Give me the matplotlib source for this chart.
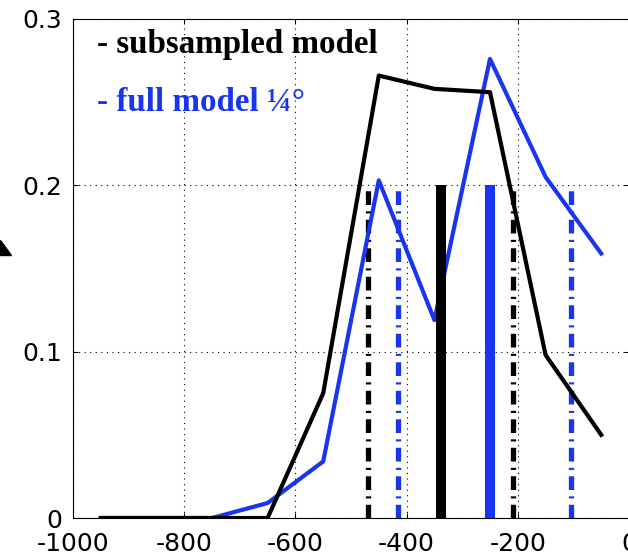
import matplotlib
matplotlib.use("Agg")
import matplotlib.pyplot as plt
from matplotlib.patches import Polygon

plt.rcParams["axes.unicode_minus"] = False

# depth bins (centres) and the two histograms
depth = [-950, -850, -750, -650, -550, -450, -350, -250, -150, -50]
subsampled = [0, 0, 0, 0, 0.075, 0.266, 0.258, 0.256, 0.098, 0.050]
full_model = [0, 0, 0, 0.009, 0.034, 0.203, 0.119, 0.276, 0.205, 0.159]

# mean (thick) and spread (dash-dot) markers, all drawn up to 0.2
sub_mean = -338
sub_spread = [-470, -209]
full_mean = -250
full_spread = [-416, -104]
marker_top = 0.2

xticks = [-1000, -800, -600, -400, -200, 0]
yticks = [0, 0.1, 0.2, 0.3]

blue = "#1a35f0"
dashdot = (0, (2.6, 1.2, 0.4, 1.2))

fig = plt.figure(figsize=(6.28, 5.58), dpi=100)
ax = fig.add_axes([73 / 628, 40 / 558, 556 / 628, 499 / 558])

for x in sub_spread:
    ax.plot([x, x], [0, marker_top], color="black", lw=3.8, ls=dashdot,
            dash_capstyle="butt", zorder=2)
for x in full_spread:
    ax.plot([x, x], [0, marker_top], color=blue, lw=3.8, ls=dashdot,
            dash_capstyle="butt", zorder=2)

ax.plot(depth, full_model, color=blue, lw=3.0, zorder=3)
ax.plot(depth, subsampled, color="black", lw=3.0, zorder=4)

ax.plot([sub_mean, sub_mean], [0, marker_top], color="black", lw=7.2,
        solid_capstyle="butt", zorder=5)
ax.plot([full_mean, full_mean], [0, marker_top], color=blue, lw=7.2,
        solid_capstyle="butt", zorder=5)

ax.set_xlim(-1000, 0)
ax.set_ylim(0, 0.3)
ax.set_xticks(xticks)
ax.set_yticks(yticks)
ax.set_xticklabels([str(t) for t in xticks])
ax.set_yticklabels(["0", "0.1", "0.2", "0.3"])
ax.tick_params(direction="in", length=3.5, width=0.75, top=True, right=True,
               labelsize=18)
ax.tick_params(axis="x", pad=10)
ax.tick_params(axis="y", pad=8)
for s in ax.spines.values():
    s.set_linewidth(0.8)
ax.grid(True, color="black", lw=0.8, ls=(0, (1, 4)))
ax.set_axisbelow(True)

ax.text(-957, 0.2796, "- subsampled model", family="Liberation Serif",
        weight="bold", fontsize=23.8, color="black", va="baseline", zorder=6)
ax.text(-957, 0.2447, "- full model ¼°", family="Liberation Serif",
        weight="bold", fontsize=23.8, color=blue, va="baseline", zorder=6)

# stray arrow head cut off at the left edge
fig.patches.append(Polygon([(0, 318 / 558), (0, 303 / 558), (11 / 628, 303 / 558)],
                           closed=True, color="black", transform=fig.transFigure))

fig.savefig("out.png", dpi=100)
